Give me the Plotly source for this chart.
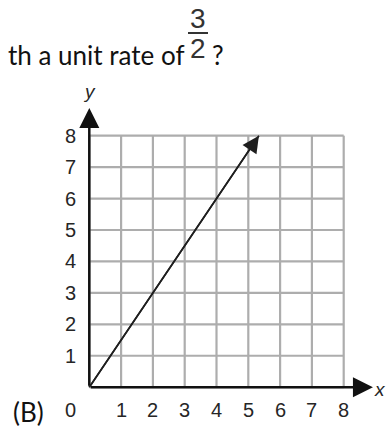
import plotly.graph_objects as go

# Grid and axis values
x_ticks = [1, 2, 3, 4, 5, 6, 7, 8]
y_ticks = [1, 2, 3, 4, 5, 6, 7, 8]
grid_max = 8
axis_end_x = 8.92
axis_end_y = 8.88

# Proportional line with a unit rate of 3/2
line_x = [0, 16 / 3]
line_y = [0, 8]

W, H = 388, 430
X0_PX, X_STEP = 89.3, 31.8      # pixel of x=0 and pixels per unit
Y0_PX, Y_STEP = 387.2, 31.44    # pixel of y=0 and pixels per unit
X_RANGE = [-X0_PX / X_STEP, (W - X0_PX) / X_STEP]
Y_RANGE = [(Y0_PX - H) / Y_STEP, Y0_PX / Y_STEP]

GRID = "#adadad"
INK = "#1e1e1e"
LABEL = "#262626"


def dx(p):
    """page pixel column -> data x"""
    return (p - X0_PX) / X_STEP


def dy(p):
    """page pixel row -> data y"""
    return (Y0_PX - p) / Y_STEP


fig = go.Figure()

# grid lines
for v in [0] + x_ticks:
    fig.add_trace(go.Scatter(x=[v, v], y=[0, grid_max], mode="lines",
                             line=dict(color=GRID, width=2.2), hoverinfo="skip",
                             showlegend=False))
for v in [0] + y_ticks:
    fig.add_trace(go.Scatter(x=[0, grid_max], y=[v, v], mode="lines",
                             line=dict(color=GRID, width=2.2), hoverinfo="skip",
                             showlegend=False))

# line through the origin
fig.add_trace(go.Scatter(x=line_x, y=line_y, mode="lines",
                         line=dict(color=INK, width=1.6), hoverinfo="skip",
                         showlegend=False))

annotations = []

# axes with arrowheads
for (hx, hy) in [(axis_end_x, 0), (0, axis_end_y)]:
    annotations.append(dict(x=hx, y=hy, ax=0, ay=0, xref="x", yref="y",
                            axref="x", ayref="y", text="", showarrow=True,
                            arrowhead=2, arrowsize=1.6, arrowwidth=2.5,
                            arrowcolor="#111111", standoff=0, startstandoff=0))

# arrowhead at the end of the line
annotations.append(dict(x=line_x[1], y=line_y[1], ax=line_x[0], ay=line_y[0],
                        xref="x", yref="y", axref="x", ayref="y", text="",
                        showarrow=True, arrowhead=2, arrowsize=2.1,
                        arrowwidth=1.6, arrowcolor=INK, standoff=0))

TICK_FONT = dict(family="Liberation Sans", size=20, color=LABEL)

# tick labels
for v in x_ticks:
    annotations.append(dict(x=v, y=dy(410), xref="x", yref="y", text=str(v),
                            showarrow=False, font=TICK_FONT))
for v in y_ticks:
    annotations.append(dict(x=dx(70.5), y=v, xref="x", yref="y", text=str(v),
                            showarrow=False, font=TICK_FONT))
annotations.append(dict(x=dx(70.5), y=dy(410), xref="x", yref="y", text="0",
                        showarrow=False, font=TICK_FONT))


def note(x, y, text, font, **kw):
    annotations.append(dict(x=dx(x), y=dy(y), xref="x", yref="y", text=text,
                            showarrow=False, font=font, **kw))


# axis names
note(380, 389, "<i>x</i>", dict(family="Liberation Sans", size=19, color=LABEL))
note(89, 91, "<i>y</i>", dict(family="Liberation Sans", size=19, color=LABEL))

# question text
TEXT_FONT = dict(family="Lato", size=26, color="#111111")
note(6, 55, "th a unit rate of", TEXT_FONT, xanchor="left")
note(198, 18, "3", dict(family="Liberation Sans", size=28, color="#333333"))
note(198, 48.5, "2", dict(family="Liberation Sans", size=28, color="#333333"))
note(218, 55, "?", TEXT_FONT)
note(28, 412, "(B)", TEXT_FONT)

shapes = [dict(type="line", xref="x", yref="y",
               x0=dx(188), x1=dx(208), y0=dy(33), y1=dy(33),
               line=dict(color="#333333", width=2))]

fig.update_layout(
    width=W, height=H,
    margin=dict(l=0, r=0, t=0, b=0),
    paper_bgcolor="white", plot_bgcolor="white",
    xaxis=dict(range=X_RANGE, visible=False, fixedrange=True),
    yaxis=dict(range=Y_RANGE, visible=False, fixedrange=True),
    annotations=annotations, shapes=shapes,
    showlegend=False,
)

fig.write_html("out.html")
